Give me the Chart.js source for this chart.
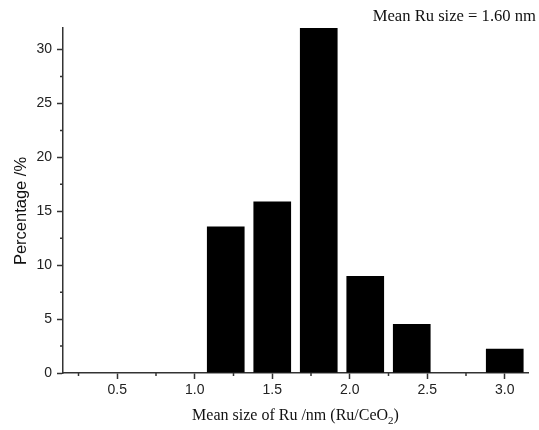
<html><head><meta charset="UTF-8"/>
<title>Ru size distribution</title>
<script src="https://cdn.jsdelivr.net/npm/chart.js"></script>
<style>
* { margin: 0; padding: 0; box-sizing: border-box; }
body { background: #ffffff; width: 539px; height: 430px; overflow: hidden; }
canvas { display: block; }
</style>
</head>
<body>
<canvas id="sizeChart" width="539" height="430"></canvas>
<script>
// histogram data
const sizeCenters = [1.2, 1.5, 1.8, 2.1, 2.4, 3.0];
const percentages = [13.6, 15.9, 32.0, 9.0, 4.55, 2.25];

const xMajorTicks = [0.5, 1.0, 1.5, 2.0, 2.5, 3.0];
const xMinorTicks = [0.25, 0.75, 1.25, 1.75, 2.25, 2.75];
const yMajorTicks = [0, 5, 10, 15, 20, 25, 30];
const yMinorTicks = [2.5, 7.5, 12.5, 17.5, 22.5, 27.5];

const xTitle = 'Mean size of Ru /nm (Ru/CeO';
const yTitle = 'Percentage /%';
const meanLabel = 'Mean Ru size = 1.60 nm';

const axisColor = '#333333';
const sansFont = "'Liberation Sans', Arial, sans-serif";
const serifFont = "'Liberation Serif', 'Times New Roman', serif";

// minor ticks + titles drawn on top of the axes
const extrasPlugin = {
    id: 'extras',
    afterDraw(chart) {
        const ctx = chart.ctx;
        const xs = chart.scales.x, ys = chart.scales.y;
        const area = chart.chartArea;
        ctx.save();
        ctx.strokeStyle = axisColor;
        ctx.lineWidth = 1.5;
        ctx.beginPath();
        xMinorTicks.forEach(v => {
            const px = xs.getPixelForValue(v);
            ctx.moveTo(px, area.bottom);
            ctx.lineTo(px, area.bottom + 3);
        });
        yMinorTicks.forEach(v => {
            const py = ys.getPixelForValue(v);
            ctx.moveTo(area.left, py);
            ctx.lineTo(area.left - 3, py);
        });
        ctx.stroke();

        // x title with subscript 2
        ctx.fillStyle = '#111111';
        ctx.font = '16px ' + serifFont;
        ctx.textBaseline = 'middle';
        const subFont = '11px ' + serifFont;
        const w1 = ctx.measureText(xTitle).width;
        ctx.font = subFont;
        const w2 = ctx.measureText('2').width;
        ctx.font = '16px ' + serifFont;
        const w3 = ctx.measureText(')').width;
        const cx = (area.left + area.right) / 2;
        let tx = cx - (w1 + w2 + w3) / 2;
        const ty = 416;
        ctx.textAlign = 'left';
        ctx.fillText(xTitle, tx, ty);
        tx += w1;
        ctx.font = subFont;
        ctx.fillText('2', tx, ty + 5);
        tx += w2;
        ctx.font = '16px ' + serifFont;
        ctx.fillText(')', tx, ty);

        // mean size note
        ctx.font = '16.6px ' + serifFont;
        ctx.textAlign = 'right';
        ctx.fillText(meanLabel, 536, 17);

        // y title
        ctx.font = '16.5px ' + sansFont;
        ctx.textAlign = 'center';
        ctx.translate(21, 211);
        ctx.rotate(-Math.PI / 2);
        ctx.fillText(yTitle, 0, 0);
        ctx.restore();
    }
};

const bgPlugin = {
    id: 'bg',
    beforeDraw(chart) {
        const ctx = chart.ctx;
        ctx.save();
        ctx.fillStyle = '#ffffff';
        ctx.fillRect(0, 0, chart.width, chart.height);
        ctx.restore();
    }
};

new Chart(document.getElementById('sizeChart'), {
    type: 'bar',
    data: {
        datasets: [{
            data: sizeCenters.map((x, i) => ({ x: x, y: percentages[i] })),
            backgroundColor: '#000000',
            borderWidth: 0,
            categoryPercentage: 1.0,
            barPercentage: 0.81
        }]
    },
    options: {
        responsive: false,
        animation: false,
        layout: { padding: { left: 0, top: 28, right: 11, bottom: 0 } },
        plugins: { legend: { display: false }, tooltip: { enabled: false } },
        scales: {
            x: {
                type: 'linear',
                offset: false,
                min: 0.15,
                max: 3.15,
                afterBuildTicks: s => { s.ticks = xMajorTicks.map(v => ({ value: v })); },
                afterFit: s => { s.height = 57; },
                border: { display: true, color: axisColor, width: 1.5 },
                grid: { offset: false, drawOnChartArea: false, drawTicks: true, tickLength: 6, tickColor: axisColor, tickWidth: 1.5 },
                ticks: {
                    color: '#222222',
                    font: { family: sansFont, size: 14 },
                    padding: 3,
                    maxRotation: 0,
                    autoSkip: false,
                    callback: v => v.toFixed(1)
                }
            },
            y: {
                min: 0,
                max: 32,
                afterBuildTicks: s => { s.ticks = yMajorTicks.map(v => ({ value: v })); },
                afterFit: s => { s.width = 63; },
                border: { display: true, color: axisColor, width: 1.5 },
                grid: { drawOnChartArea: false, drawTicks: true, tickLength: 6, tickColor: axisColor, tickWidth: 1.5 },
                ticks: {
                    color: '#222222',
                    font: { family: sansFont, size: 14 },
                    padding: 5
                }
            }
        }
    },
    plugins: [bgPlugin, extrasPlugin]
});
</script>
</body></html>
